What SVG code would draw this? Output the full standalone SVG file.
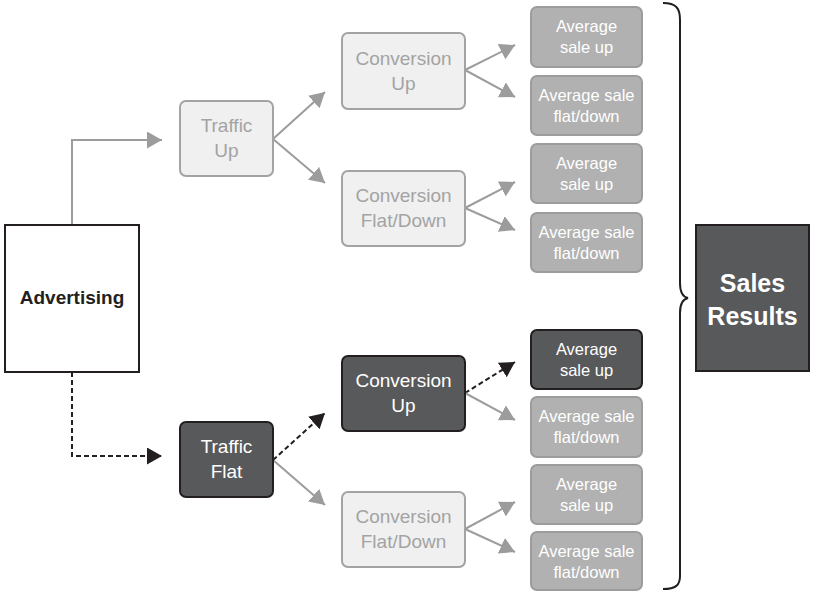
<svg xmlns="http://www.w3.org/2000/svg" width="814" height="592" viewBox="0 0 814 592">
<style>
text{font-family:"Liberation Sans",Arial,sans-serif;text-anchor:middle}
.light rect{fill:#f0f0f0;stroke:#a3a3a3;stroke-width:2}
.light text{fill:#a3a3a3;font-size:19px}
.dark rect{fill:#58595b;stroke:#231f20;stroke-width:2}
.dark text{fill:#fff;font-size:19px}
.avg rect{fill:#b1b1b1;stroke:#9c9c9c;stroke-width:2}
.avg text{fill:#fff;font-size:16.5px}
.avgd rect{fill:#58595b;stroke:#231f20;stroke-width:2}
.avgd text{fill:#fff;font-size:16.5px}
.g{fill:none;stroke:#9c9c9c;stroke-width:2;marker-end:url(#ag)}
.d{fill:none;stroke:#231f20;stroke-width:2;stroke-dasharray:5 3;marker-end:url(#ad)}
</style>
<defs>
<marker id="ag" markerUnits="userSpaceOnUse" markerWidth="16" markerHeight="18" refX="15" refY="8.5" orient="auto"><path d="M0,0 L15,8.5 L0,17 z" fill="#9c9c9c"/></marker>
<marker id="ad" markerUnits="userSpaceOnUse" markerWidth="16" markerHeight="18" refX="15" refY="8.5" orient="auto"><path d="M0,0 L15,8.5 L0,17 z" fill="#231f20"/></marker>
</defs>
<rect width="814" height="592" fill="#fff"/>
<g id="connectors">
<path class="g" d="M72,225 V140 H162"/>
<path class="d" d="M72,372 V456 H162"/>
<path class="g" d="M273,139 L325,92"/>
<path class="g" d="M273,139 L325,183"/>
<path class="d" d="M273,460 L325,413"/>
<path class="g" d="M273,460 L325,505"/>
<path class="g" d="M465,70 L515,45"/>
<path class="g" d="M465,70 L515,97"/>
<path class="g" d="M465,208 L515,182"/>
<path class="g" d="M465,208 L515,230"/>
<path class="d" d="M465,393 L515,362"/>
<path class="g" d="M465,393 L515,420"/>
<path class="g" d="M465,529 L515,502"/>
<path class="g" d="M465,529 L515,552"/>
<path fill="none" stroke="#231f20" stroke-width="2" d="M663,3 C676,3 680,8 680,20 V283 C680,292 683,297 688,298 C683,299 680,304 680,313 V576 C680,585 676,589 663,589"/>
</g>
<g id="advertising"><rect x="5" y="225" width="134" height="147" fill="#fff" stroke="#231f20" stroke-width="2"/><text x="72" y="304" font-size="19px" font-weight="bold" fill="#231f20">Advertising</text></g>
<g id="traffic-up" class="light"><rect x="180" y="101" width="93" height="75" rx="6"/><text x="226.5" y="132">Traffic</text><text x="226.5" y="157">Up</text></g>
<g id="traffic-flat" class="dark"><rect x="180" y="422" width="93" height="75" rx="6"/><text x="226.5" y="453">Traffic</text><text x="226.5" y="478">Flat</text></g>
<g id="conv-up-1" class="light"><rect x="342" y="33" width="123" height="76" rx="6"/><text x="403.5" y="65">Conversion</text><text x="403.5" y="90">Up</text></g>
<g id="conv-fd-1" class="light"><rect x="342" y="171" width="123" height="75" rx="6"/><text x="403.5" y="202">Conversion</text><text x="403.5" y="227">Flat/Down</text></g>
<g id="conv-up-2" class="dark"><rect x="342" y="356" width="123" height="75" rx="6"/><text x="403.5" y="387">Conversion</text><text x="403.5" y="412">Up</text></g>
<g id="conv-fd-2" class="light"><rect x="342" y="492" width="123" height="75" rx="6"/><text x="403.5" y="523">Conversion</text><text x="403.5" y="548">Flat/Down</text></g>
<g id="avg-1" class="avg"><rect x="531" y="7" width="111" height="60" rx="6"/><text x="586.5" y="32">Average</text><text x="586.5" y="53">sale up</text></g>
<g id="avg-2" class="avg"><rect x="531" y="76" width="111" height="59" rx="6"/><text x="586.5" y="101">Average sale</text><text x="586.5" y="122">flat/down</text></g>
<g id="avg-3" class="avg"><rect x="531" y="144" width="111" height="59" rx="6"/><text x="586.5" y="169">Average</text><text x="586.5" y="190">sale up</text></g>
<g id="avg-4" class="avg"><rect x="531" y="213" width="111" height="59" rx="6"/><text x="586.5" y="238">Average sale</text><text x="586.5" y="259">flat/down</text></g>
<g id="avg-5" class="avgd"><rect x="531" y="330" width="111" height="59" rx="6"/><text x="586.5" y="355">Average</text><text x="586.5" y="376">sale up</text></g>
<g id="avg-6" class="avg"><rect x="531" y="397" width="111" height="60" rx="6"/><text x="586.5" y="422">Average sale</text><text x="586.5" y="443">flat/down</text></g>
<g id="avg-7" class="avg"><rect x="531" y="465" width="111" height="59" rx="6"/><text x="586.5" y="490">Average</text><text x="586.5" y="511">sale up</text></g>
<g id="avg-8" class="avg"><rect x="531" y="532" width="111" height="58" rx="6"/><text x="586.5" y="557">Average sale</text><text x="586.5" y="578">flat/down</text></g>
<g id="sales-results"><rect x="696" y="225" width="113" height="146" fill="#58595b" stroke="#231f20" stroke-width="2"/><text x="752.5" y="292" font-size="25px" font-weight="bold" fill="#fff">Sales</text><text x="752.5" y="325" font-size="25px" font-weight="bold" fill="#fff">Results</text></g>
</svg>
